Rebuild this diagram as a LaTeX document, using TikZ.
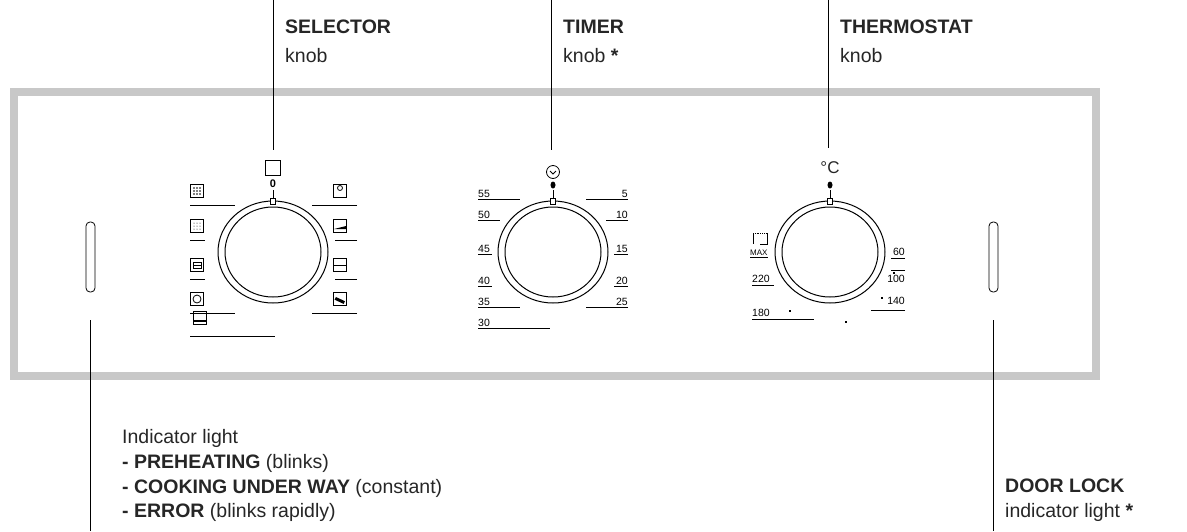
\documentclass[tikz,border=0pt]{standalone}
\usepackage{fontspec}
\setmainfont{Liberation Sans}
\begin{document}
\begin{tikzpicture}[x=1pt,y=-1pt,
  lbl/.style={font=\fontsize{19.5}{22}\selectfont,anchor=west,inner sep=0,text=black!85},
  num/.style={font=\fontsize{10.5}{11}\selectfont,inner sep=0},
  thin/.style={line width=0.8pt},
  ic/.style={draw,thin,minimum width=13,minimum height=13,inner sep=0}]
\useasboundingbox (0,0) rectangle (1187,531);
\definecolor{pg}{RGB}{200,200,200}
\node[draw=pg,line width=8pt,minimum width=1082,minimum height=284,inner sep=0] (panel) at (555,234) {};
% leaders
\coordinate (s0) at (273,0); \coordinate (s1) at (273,150);
\coordinate (t0) at (551,0); \coordinate (t1) at (551,150);
\coordinate (h0) at (828,0); \coordinate (h1) at (828,148);
\coordinate (l0) at (90,320); \coordinate (l1) at (90,531);
\coordinate (r0) at (993,320); \coordinate (r1) at (993,531);
\foreach \a/\b in {s0/s1,t0/t1,h0/h1,l0/l1,r0/r1} \draw[thin] (\a)--(\b);
\node[lbl,anchor=north west] (st) at (285,20) {\textbf{SELECTOR}};
\node[lbl,anchor=north west] at (285,48) {knob};
\node[lbl,anchor=north west] (tt) at (563,20) {\textbf{TIMER}};
\node[lbl,anchor=north west] at (563,48) {knob \textbf{*}};
\node[lbl,anchor=north west] (ht) at (840,20) {\textbf{THERMOSTAT}};
\node[lbl,anchor=north west] at (840,48) {knob};
\node[lbl] at (122,438) {Indicator light};
\node[lbl] at (122,463) {\textbf{- PREHEATING} (blinks)};
\node[lbl] at (122,488) {\textbf{- COOKING UNDER WAY} (constant)};
\node[lbl] at (122,512) {\textbf{- ERROR} (blinks rapidly)};
\node[lbl] at (1005,486) {\textbf{DOOR LOCK}};
\node[lbl] at (1005,512) {indicator light \textbf{*}};
% lights
\draw[thin,rounded corners=4] (86,222) rectangle (95,292);
\draw[thin,rounded corners=4] (989,222) rectangle (998,292);
% knobs
\foreach \cx/\n in {273/ks,553/kt,830/kh}{
  \draw[line width=1pt] (\cx,252) ellipse (55 and 51);
  \draw[line width=1pt] (\cx,252) ellipse (48 and 45);
  \draw[thin,fill=white] (\cx-2.5,198) rectangle (\cx+2.5,204);
  \draw[thin] (\cx,190)--(\cx,198);
}
% selector
\node[draw,thin,minimum width=15,minimum height=15,inner sep=0] (sq) at (273,168) {};
\node[font=\bfseries\fontsize{11}{11}\selectfont,inner sep=0] at (273,184) {0};
\foreach \y/\x in {191/197,226/197,265/197,299/197,318/200}{\node[ic] at (\x,\y) {};}
\foreach \y/\x in {191/340,226/340,265/340,299/340}{\node[ic] at (\x,\y) {};}
\foreach \dx in {-3,0,3}\foreach \dy in {-3,0,3}{\fill (197+\dx,191+\dy) circle (0.9); \fill (197+\dx,226+\dy) circle (0.5);}
\draw[thin] (193,265)--(201,265) (193,262) rectangle (201,268);
\draw[thin] (197,299) circle (4);
\fill (194,320) rectangle (206,322);
\draw[thin] (340,188) circle (2.5);
\fill (334,229) -- (346,226) -- (346,229) -- cycle;
\draw[thin] (333.5,265)--(346.5,265);
\fill[rotate around={-25:(340,300)}] (335,299) rectangle (345,302);
\foreach \y/\w in {205/45,240/15,279/15,313/45,336/85}{\draw[thin] (190,\y)--++(\w,0);}
\foreach \y/\w in {205/45,240/22,279/22,313/45}{\draw[thin] (357,\y)--++(-\w,0);}
% timer
\draw[thin] (553,172) circle (6.5); \draw[thin] (550,171)--(553,174)--(556,171);
\fill (553,185) ellipse (2.5 and 3.5);
\foreach \t/\y/\w in {55/198/42,50/219/22,45/253/14,40/285/14,35/306/42,30/327/72}{
  \node[num,anchor=south west] at (478,\y) {\t}; \draw[thin] (478,\y+1)--++(\w,0);}
\foreach \t/\y/\w in {5/198/42,10/219/22,15/253/14,20/285/14,25/306/42}{
  \node[num,anchor=south east] at (628,\y) {\t}; \draw[thin] (628,\y+1)--++(-\w,0);}
% thermostat
\node[font=\fontsize{17}{17}\selectfont,inner sep=0,text=black!85] at (830,168) {°C};
\fill (830,185) ellipse (2.5 and 3.5);
\draw[thin,densely dotted] (753,233)--(767,233); \draw[thin] (753,233)--(753,244) (767,233)--(767,244)--(760,244);
\node[num,anchor=south west] at (750,256) {\fontsize{8}{8}\selectfont MAX}; \draw[thin] (750,257)--++(18,0);
\node[num,anchor=south west] at (752,283) {220}; \draw[thin] (752,285)--++(22,0);
\node[num,anchor=south west] at (752,317) {180}; \draw[thin] (752,319)--++(62,0);
\node[num,anchor=south east] at (905,256) {60}; \draw[thin] (905,258)--++(-14,0);
\node[num,anchor=south east] at (905,283) {100}; \draw[thin] (905,270)--++(-14,0);
\node[num,anchor=south east] at (905,305) {140}; \draw[thin] (905,310)--++(-34,0);
\foreach \p in {(894,273),(882,298),(790,311),(846,322)} \fill \p +(-1.3,-1.3) rectangle +(1.3,1.3);
\end{tikzpicture}
\end{document}
